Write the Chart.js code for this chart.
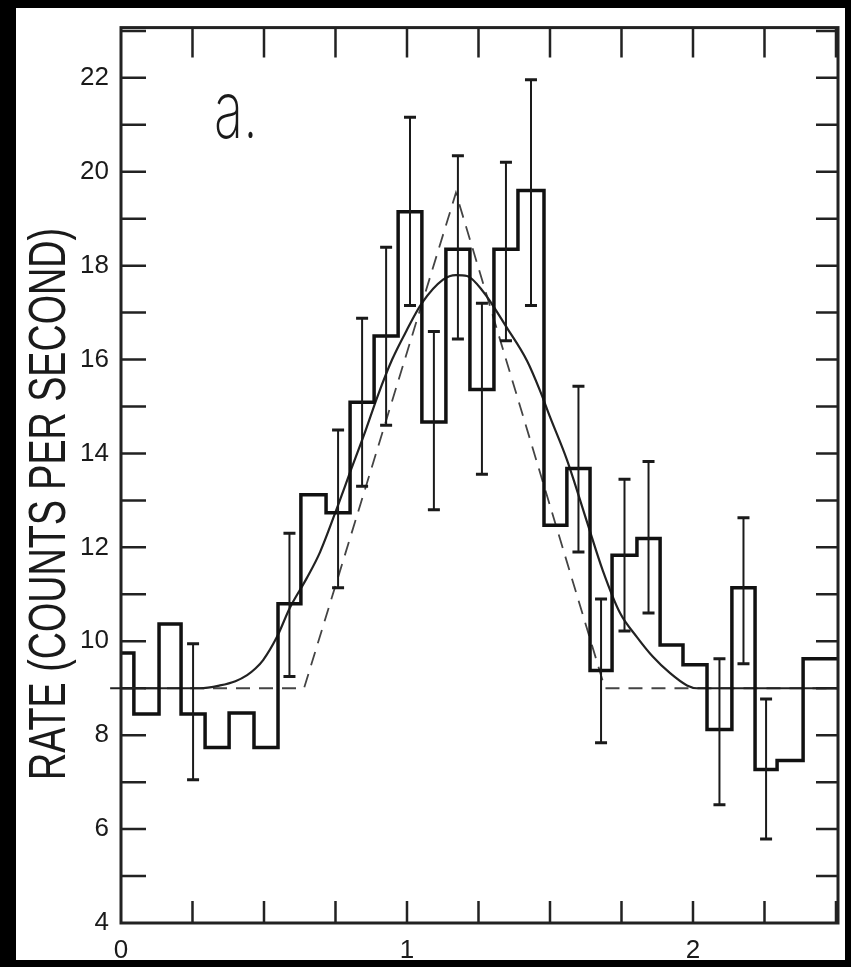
<!DOCTYPE html>
<html>
<head>
<meta charset="utf-8">
<script src="https://cdn.jsdelivr.net/npm/chart.js@4.4.1/dist/chart.umd.min.js"></script>
<style>
  html, body { margin: 0; padding: 0; background: #000; }
  canvas { display: block; }
</style>
</head>
<body>
<canvas id="rateChart" width="851" height="967"></canvas>
<script>
// histogram bins: left/right edges and the rate in each bin
const binEdges = [0, 0.045, 0.133, 0.210, 0.294, 0.378, 0.465, 0.549, 0.629, 0.717,
    0.801, 0.885, 0.969, 1.052, 1.136, 1.220, 1.304, 1.388, 1.479, 1.559,
    1.640, 1.717, 1.804, 1.885, 1.965, 2.049, 2.136, 2.217, 2.294, 2.385, 2.507];
const binRates = [9.75, 8.45, 10.37, 8.45, 7.74, 8.47, 7.74, 10.8, 13.12, 12.74,
    15.09, 16.5, 19.15, 14.67, 18.35, 15.36, 18.35, 19.6, 12.47, 13.68,
    9.38, 11.83, 12.19, 9.92, 9.5, 8.12, 11.14, 7.27, 7.46, 9.63];

// error bar ends per bin (null = no bar)
const errHigh = [null, null, null, 9.95, null, null, null, 12.3, null, 14.5,
    16.88, 18.39, 21.16, 16.6, 20.34, 17.2, 20.2, 21.96, null, 15.43,
    10.9, 13.45, 13.83, null, null, 9.63, 12.63, 8.77, null, null];
const errLow = [null, null, null, 7.05, null, null, null, 9.25, null, 11.14,
    13.3, 14.6, 17.15, 12.8, 16.44, 13.56, 16.4, 17.15, null, 11.9,
    7.84, 10.22, 10.6, null, null, 6.52, 9.52, 5.79, null, null];

// smooth fitted curve (solid)
const curveX = [-0.038, 0.276, 0.346, 0.400, 0.441, 0.470, 0.497, 0.545, 0.591, 0.650,
    0.696, 0.759, 0.801, 0.850, 0.899, 0.948, 0.997, 1.052, 1.126, 1.171,
    1.210, 1.266, 1.350, 1.420, 1.465, 1.500, 1.559, 1.629, 1.685, 1.745,
    1.804, 1.860, 1.920, 1.979, 2.014, 2.507];
const curveY = [9.0, 9.0, 9.06, 9.15, 9.28, 9.42, 9.6, 10.09, 10.72, 11.35,
    11.9, 12.9, 13.6, 14.4, 15.25, 16.0, 16.6, 17.2, 17.7, 17.8,
    17.78, 17.45, 16.67, 15.97, 15.34, 14.78, 13.87, 12.55, 11.5, 10.6,
    10.09, 9.67, 9.32, 9.06, 9.0, 9.0];

// triangular model (dashed)
const triX = [0, 0.640, 1.171, 1.692, 2.507];
const triY = [9.0, 9.0, 19.55, 9.0, 9.0];

// axes
const xTickLabels = [0, 1, 2];
const yTickLabels = [4, 6, 8, 10, 12, 14, 16, 18, 20, 22];
const xMinorTicks = [0.25, 0.5, 0.75, 1, 1.25, 1.5, 1.75, 2, 2.25, 2.5];
const yMinorTicks = [5, 6, 7, 8, 9, 10, 11, 12, 13, 14, 15, 16, 17, 18, 19, 20, 21, 22, 23];

const histPoints = binRates.map((r, i) => ({ x: binEdges[i], y: r }));
histPoints.push({ x: binEdges[binEdges.length - 1], y: binRates[binRates.length - 1] });

function squashText(ctx, text, x, y, font, targetW, rot) {
    ctx.save();
    ctx.translate(x, y);
    ctx.rotate(rot);
    ctx.font = font;
    const w = ctx.measureText(text).width;
    ctx.scale(targetW / w, 1);
    ctx.textAlign = 'center';
    ctx.textBaseline = 'middle';
    ctx.fillText(text, 0, 0);
    ctx.restore();
}

const figurePlugin = {
    id: 'figure',
    beforeDraw(chart) {
        const ctx = chart.ctx;
        ctx.save();
        ctx.fillStyle = '#000';
        ctx.fillRect(0, 0, chart.width, chart.height);
        ctx.fillStyle = '#fff';
        ctx.fillRect(16, 8, 829, 952);
        ctx.restore();
    },
    afterDatasetsDraw(chart) {
        const ctx = chart.ctx;
        const xs = chart.scales.x, ys = chart.scales.y;
        const a = chart.chartArea;

        // error bars at bin centres
        ctx.save();
        ctx.strokeStyle = '#1a1a1a';
        binRates.forEach((r, i) => {
            if (errHigh[i] === null) return;
            const px = xs.getPixelForValue((binEdges[i] + binEdges[i + 1]) / 2);
            const top = ys.getPixelForValue(errHigh[i]);
            const bot = ys.getPixelForValue(errLow[i]);
            ctx.lineWidth = 2;
            ctx.beginPath();
            ctx.moveTo(px, top); ctx.lineTo(px, bot);
            ctx.stroke();
            ctx.lineWidth = 3;
            ctx.beginPath();
            ctx.moveTo(px - 6, top); ctx.lineTo(px + 6, top);
            ctx.moveTo(px - 6, bot); ctx.lineTo(px + 6, bot);
            ctx.stroke();
        });

        // frame
        ctx.strokeStyle = '#222';
        ctx.lineWidth = 3;
        ctx.strokeRect(a.left, a.top, a.right - a.left, a.bottom - a.top);

        // inward ticks on all four sides
        ctx.lineWidth = 2.5;
        ctx.beginPath();
        yMinorTicks.forEach(v => {
            const py = ys.getPixelForValue(v);
            ctx.moveTo(a.left, py); ctx.lineTo(a.left + 25, py);
            ctx.moveTo(a.right, py); ctx.lineTo(a.right - 22, py);
        });
        xMinorTicks.forEach(v => {
            const px = xs.getPixelForValue(v);
            ctx.moveTo(px, a.bottom); ctx.lineTo(px, a.bottom - 22);
            ctx.moveTo(px, a.top); ctx.lineTo(px, a.top + 30);
        });
        ctx.stroke();

        // texts
        ctx.fillStyle = '#1a1a1a';
        squashText(ctx, 'RATE (COUNTS PER SECOND)', 51, 504,
            "52px 'Liberation Sans', Arial, sans-serif", 552, -Math.PI / 2);
        squashText(ctx, 'a.', 236, 114, "200 80px Inter, 'Liberation Sans', sans-serif", 44, 0);
        ctx.restore();
    }
};

const tickFont = { family: "'Liberation Sans Narrow', 'Liberation Sans', Arial, sans-serif", size: 26 };

new Chart(document.getElementById('rateChart'), {
    type: 'line',
    data: {
        datasets: [
            {
                label: 'Rate',
                data: histPoints,
                stepped: 'before',
                borderColor: '#111',
                borderWidth: 3.5,
                pointRadius: 0,
                fill: false,
                order: 1
            },
            {
                label: 'Fit',
                data: curveX.map((x, i) => ({ x: x, y: curveY[i] })),
                borderColor: '#222',
                borderWidth: 2.2,
                cubicInterpolationMode: 'monotone',
                pointRadius: 0,
                fill: false,
                clip: { left: 14, top: 0, right: 0, bottom: 0 },
                order: 2
            },
            {
                label: 'Triangle',
                data: triX.map((x, i) => ({ x: x, y: triY[i] })),
                borderColor: '#444',
                borderWidth: 1.8,
                borderDash: [14, 9],
                pointRadius: 0,
                tension: 0,
                fill: false,
                order: 3
            }
        ]
    },
    options: {
        responsive: false,
        animation: false,
        layout: { padding: { top: 15, right: 13, left: 0, bottom: 0 } },
        plugins: {
            legend: { display: false },
            tooltip: { enabled: false }
        },
        scales: {
            x: {
                type: 'linear',
                min: 0,
                max: 2.507,
                grid: { display: false, drawTicks: false },
                border: { display: false },
                afterBuildTicks: s => { s.ticks = xTickLabels.map(v => ({ value: v })); },
                afterFit: s => { s.height = 44; },
                ticks: { color: '#1a1a1a', font: tickFont, padding: 12, maxRotation: 0 }
            },
            y: {
                type: 'linear',
                min: 4,
                max: 23.07,
                grid: { display: false, drawTicks: false },
                border: { display: false },
                afterBuildTicks: s => { s.ticks = yTickLabels.map(v => ({ value: v })); },
                afterFit: s => { s.width = 121; },
                ticks: { color: '#1a1a1a', font: tickFont, padding: 12 }
            }
        }
    },
    plugins: [figurePlugin]
});
</script>
</body>
</html>
